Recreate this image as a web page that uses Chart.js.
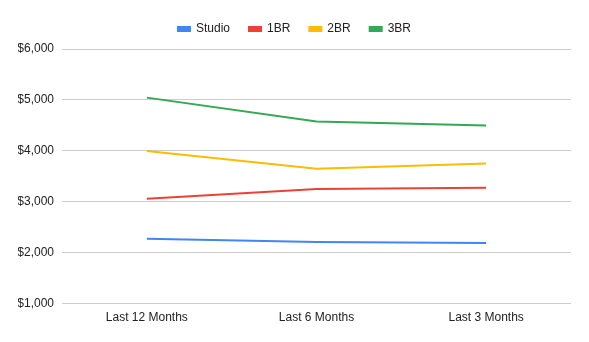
<!DOCTYPE html>
<html>
<head>
<meta charset="utf-8">
<title>Rent by unit type</title>
<script src="https://cdn.jsdelivr.net/npm/chart.js@4/dist/chart.umd.min.js"></script>
<style>
  body { margin: 0; background: #fff; }
  #rentChart { display: block; }
</style>
</head>
<body>
<canvas id="rentChart" width="589" height="342"></canvas>
<script>
// Periods on the x axis
const periods = ["Last 12 Months", "Last 6 Months", "Last 3 Months"]

// Average rent per unit type
const studio = [2275, 2210, 2190]
const oneBR = [3060, 3250, 3275]
const twoBR = [3995, 3650, 3750]
const threeBR = [5045, 4575, 4500]

// Y axis range
const yTicks = [1000, 2000, 3000, 4000, 5000, 6000]

function series(label, data, color) {
  return {
    label: label,
    data: data,
    borderColor: color,
    backgroundColor: color,
    borderWidth: 2,
    pointRadius: 0,
    pointHoverRadius: 0,
    tension: 0,
    fill: false,
  }
}

// a bit more room between the legend and the plot
const legendGap = {
  id: "legendGap",
  beforeInit(chart) {
    const fit = chart.legend.fit
    chart.legend.fit = function () {
      fit.bind(chart.legend)()
      this.height += 4
    }
  },
}

Chart.defaults.font.family = "'Liberation Sans', Arial, sans-serif"
Chart.defaults.font.size = 12
Chart.defaults.color = "#222222"

const config = {
  type: "line",
  data: {
    labels: periods,
    datasets: [
      series("Studio", studio, "#4285F4"),
      series("1BR", oneBR, "#EA4335"),
      series("2BR", twoBR, "#FBBC04"),
      series("3BR", threeBR, "#34A853"),
    ],
  },
  options: {
    responsive: false,
    animation: false,
    layout: {
      padding: { left: 18, right: 18, top: 4, bottom: 10 },
    },
    plugins: {
      legend: {
        position: "top",
        labels: {
          boxWidth: 12,
          boxHeight: 4,
          padding: 19,
        },
      },
      tooltip: { enabled: false },
    },
    scales: {
      x: {
        offset: true,
        grid: { display: false, drawTicks: false },
        border: { display: false },
        ticks: { padding: 7, maxRotation: 0 },
      },
      y: {
        min: yTicks[0],
        max: yTicks[yTicks.length - 1],
        afterFit: (scale) => {
          scale.width = 44
        },
        ticks: {
          stepSize: 1000,
          padding: 8,
          callback: (v) => "$" + v.toLocaleString("en-US"),
        },
        grid: { color: "#cccccc", drawTicks: false },
        border: { display: false },
      },
    },
  },
  plugins: [legendGap],
}

const rentChart = new Chart(document.getElementById("rentChart"), config)
</script>
</body>
</html>
